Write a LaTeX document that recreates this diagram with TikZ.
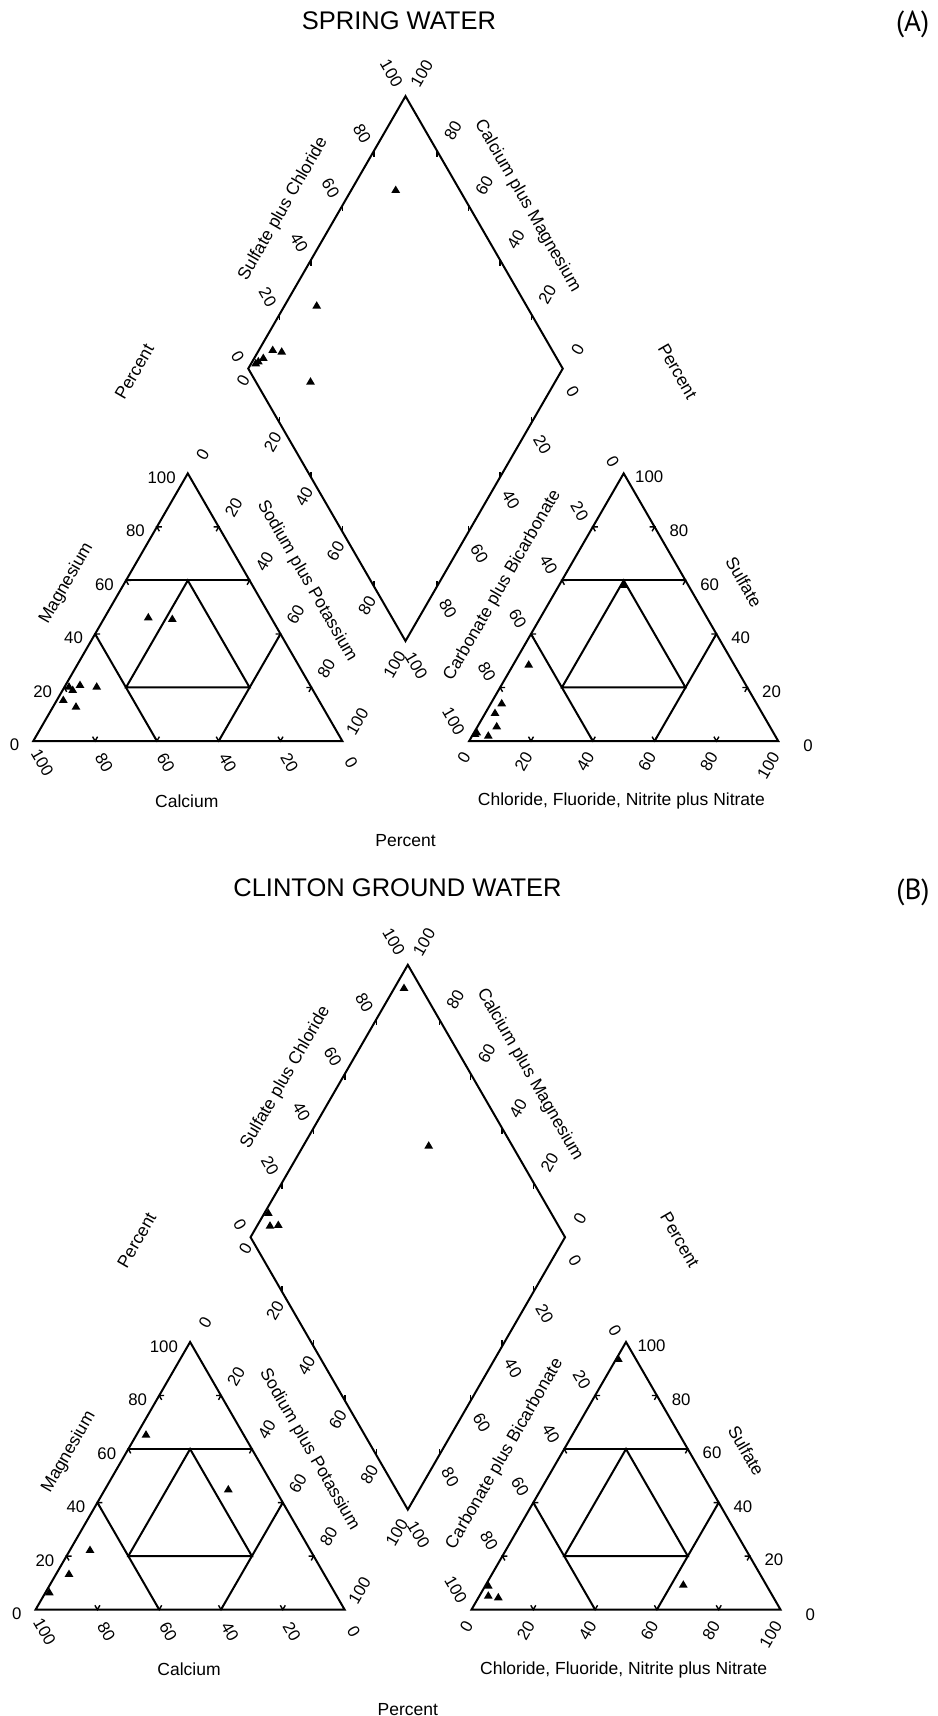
\documentclass[tikz,border=0pt]{standalone}
\usepackage{fontspec}
\setmainfont{Liberation Sans}
\newfontfamily\panelfont{PT Sans}
\usetikzlibrary{calc}
\tikzset{
  frame/.style={line width=2.0pt, line join=miter},
  tickmark/.style={line width=1.4pt},
  num/.style={inner sep=0pt, font=\fontsize{16.8}{18}\selectfont},
  axlabel/.style={inner sep=0pt, font=\fontsize{17.5}{19}\selectfont},
  ttl/.style={inner sep=0pt, font=\fontsize{25.5}{28}\selectfont},
  plabel/.style={inner sep=0pt, font=\panelfont\fontsize{29}{31}\selectfont},
  sample/.style={fill=black},
}
\newcommand\mk[1]{\fill[sample] (#1) ++(-4.4,3.6) -- ++(8.8,0) -- ++(-4.4,-7.4) -- cycle;}
\newcommand\piperpanel[1]{%
  % vertices
  \coordinate (#1LL) at (33.3,741);
  \coordinate (#1LR) at (342.3,741);
  \coordinate (#1LT) at (187.8,473.4);
  \coordinate (#1RL) at (469.2,741);
  \coordinate (#1RR) at (778.2,741);
  \coordinate (#1RT) at (623.7,473.4);
  \coordinate (#1DT) at (405.5,96.2);
  \coordinate (#1DL) at (248.25,368.6);
  \coordinate (#1DR) at (562.75,368.6);
  \coordinate (#1DB) at (405.5,641.0);
  % outlines
  \draw[frame] (#1LL) -- (#1LR) -- (#1LT) -- cycle;
  \draw[frame] (#1RL) -- (#1RR) -- (#1RT) -- cycle;
  \draw[frame] (#1DT) -- (#1DR) -- (#1DB) -- (#1DL) -- cycle;
  % subdivisions of the two triangles
  \foreach \p/\q/\r in {#1LL/#1LR/#1LT,#1RL/#1RR/#1RT}{%
    \draw[frame] ($(\p)!0.6!(\r)$) -- ($(\q)!0.6!(\r)$);
    \draw[frame] ($(\p)!0.4!(\r)$) -- ($(\p)!0.4!(\q)$);
    \draw[frame] ($(\q)!0.4!(\r)$) -- ($(\q)!0.4!(\p)$);
    \draw[frame] (barycentric cs:\r=0.6,\p=0.2,\q=0.2) -- (barycentric cs:\r=0.2,\p=0.6,\q=0.2)
      -- (barycentric cs:\r=0.2,\p=0.2,\q=0.6) -- cycle;
    \foreach \t in {0.2,0.4,0.6,0.8}{%
      \draw[tickmark] ($(\p)!\t!(\q)$) ++(-2.5,-4.33) -- ++(2.5,4.33) -- ++(2.5,-4.33);
      \draw[tickmark] ($(\p)!\t!(\r)$) ++(5,0) -- ++(-5,0) -- ++(2.5,4.33);
      \draw[tickmark] ($(\q)!\t!(\r)$) ++(-5,0) -- ++(5,0) -- ++(-2.5,4.33);
    }
  }
  % diamond ticks
  \foreach \t in {0.2,0.4,0.6,0.8}{%
    \draw[tickmark] ($(#1DL)!\t!(#1DT)$) -- ++(0,6);
    \draw[tickmark] ($(#1DR)!\t!(#1DT)$) -- ++(0,6);
    \draw[tickmark] ($(#1DL)!\t!(#1DB)$) -- ++(0,-6);
    \draw[tickmark] ($(#1DR)!\t!(#1DB)$) -- ++(0,-6);
  }
  % left triangle numbers
  \foreach \t/\v in {0.2/20,0.4/40,0.6/60,0.8/80,1/100}
    \node[num,anchor=east] at ($(#1LL)!\t!(#1LT)+(-12,4.2)$) {\v};
  \node[num,anchor=east] at ($(#1LL)+(-14,4)$) {0};
  \foreach \t/\v in {0/100,0.2/80,0.4/60,0.6/40,0.8/20,1/0}
    \node[num,rotate=-60] at ($(#1LL)!\t!(#1LR)+(9,22)$) {\v};
  \foreach \t/\v in {0/0,0.2/20,0.4/40,0.6/60,0.8/80,1/100}
    \node[num,rotate=60] at ($(#1LT)!\t!(#1LR)+(15,-19.3)$) {\v};
  % right triangle numbers
  \foreach \t/\v in {0/0,0.2/20,0.4/40,0.6/60,0.8/80,1/100}
    \node[num,rotate=-60,anchor=east] at ($(#1RT)!\t!(#1RL)+(-8.5,-7.5)$) {\v};
  \foreach \t/\v in {0/0,0.2/20,0.4/40,0.6/60,0.8/80,1/100}
    \node[num,rotate=60,anchor=east] at ($(#1RL)!\t!(#1RR)+(-2.7,12.3)$) {\v};
  \foreach \t/\v in {0.2/20,0.4/40,0.6/60,0.8/80}
    \node[num,anchor=west] at ($(#1RR)!\t!(#1RT)+(14.7,4)$) {\v};
  \node[num,anchor=west] at ($(#1RT)+(11.3,3.7)$) {100};
  \node[num,anchor=west] at ($(#1RR)+(25,5)$) {0};
  % diamond numbers
  \foreach \t/\v in {0.2/20,0.4/40,0.6/60,0.8/80}{%
    \node[num,rotate=-60] at ($(#1DL)!\t!(#1DT)+(-12,-17)$) {\v};
    \node[num,rotate=60] at ($(#1DR)!\t!(#1DT)+(16,-20)$) {\v};
    \node[num,rotate=60] at ($(#1DL)!\t!(#1DB)+(-7,19)$) {\v};
    \node[num,rotate=-60] at ($(#1DR)!\t!(#1DB)+(11,22)$) {\v};
  }
  \node[num,rotate=-60] at ($(#1DL)+(-10.6,-12.3)$) {0};
  \node[num,rotate=-60] at ($(#1DT)+(-14,-23)$) {100};
  \node[num,rotate=60] at ($(#1DR)+(15,-19)$) {0};
  \node[num,rotate=60] at ($(#1DT)+(16.2,-22.7)$) {100};
  \node[num,rotate=60] at ($(#1DL)+(-5,11.7)$) {0};
  \node[num,rotate=60] at ($(#1DB)+(-11,23.3)$) {100};
  \node[num,rotate=-60] at ($(#1DR)+(10,23.4)$) {0};
  \node[num,rotate=-60] at ($(#1DB)+(10.7,25)$) {100};
  % axis titles
  \node[axlabel,rotate=60] (#1so4cl) at (283.3,209) {Sulfate plus Chloride};
  \node[axlabel,rotate=-60] (#1camg) at (527.5,206) {Calcium plus Magnesium};
  \node[axlabel,rotate=60] (#1pctl) at (134.4,371.5) {Percent};
  \node[axlabel,rotate=-60] (#1pctr) at (677.6,371.5) {Percent};
  \node[axlabel,rotate=60] (#1mg) at (66.5,583.5) {Magnesium};
  \node[axlabel,rotate=-60] (#1nak) at (307,581) {Sodium plus Potassium};
  \node[axlabel,rotate=60] (#1co3) at (502.5,585.5) {Carbonate plus Bicarbonate};
  \node[axlabel,rotate=-60] (#1so4) at (744,582) {Sulfate};
  \node[axlabel] (#1ca) at (186.8,801) {Calcium};
  \node[axlabel] (#1cl) at (621.4,801) {Chloride, Fluoride, Nitrite plus Nitrate};
  \node[axlabel] (#1pctb) at (405.5,840.7) {Percent};
}
\begin{document}
\begin{tikzpicture}[x=1pt,y=-1pt]
  \fill[white] (0,0) rectangle (937,1716);
  \useasboundingbox (0,0) rectangle (937,1716);
  % ---------- panel A ----------
  \node[ttl] (titleA) at (398.9,21) {SPRING WATER};
  \node[plabel] (tagA) at (912.7,24) {(A)};
  \piperpanel{A}
  % data A: diamond
  \mk{395.7,189.3}\mk{316.7,305}\mk{272.7,349.3}\mk{281.7,351}
  \mk{263.3,357.3}\mk{258.3,360.7}\mk{255.7,362.7}\mk{310.5,381}
  % data A: left triangle
  \mk{148.3,616.7}\mk{172.3,618.3}\mk{69,686}\mk{72.7,689.3}
  \mk{80,684.3}\mk{96.7,686}\mk{63.3,699.3}\mk{76,706}
  % data A: right triangle
  \mk{624,584.3}\mk{528.7,664}\mk{501.7,702.7}\mk{495,712.3}
  \mk{496.7,725.7}\mk{476.7,731.7}\mk{475,733.3}\mk{488.3,735}
  % ---------- panel B ----------
  \node[ttl] (titleB) at (397.5,888) {CLINTON GROUND WATER};
  \node[plabel] (tagB) at (913,892.6) {(B)};
  \begin{scope}[shift={(2.3,868.6)}]
    \piperpanel{B}
  \end{scope}
  % data B: diamond
  \mk{404,987.3}\mk{428.7,1145}\mk{268.3,1212.3}\mk{270,1225}\mk{278.3,1224.3}
  % data B: left triangle
  \mk{146,1434}\mk{228.3,1488.7}\mk{90,1549.3}\mk{69,1573.3}\mk{49.3,1591.7}
  % data B: right triangle
  \mk{618.3,1358.3}\mk{488.3,1585}\mk{488.3,1595}\mk{498.3,1596.7}\mk{683.3,1584}
\end{tikzpicture}
\end{document}
